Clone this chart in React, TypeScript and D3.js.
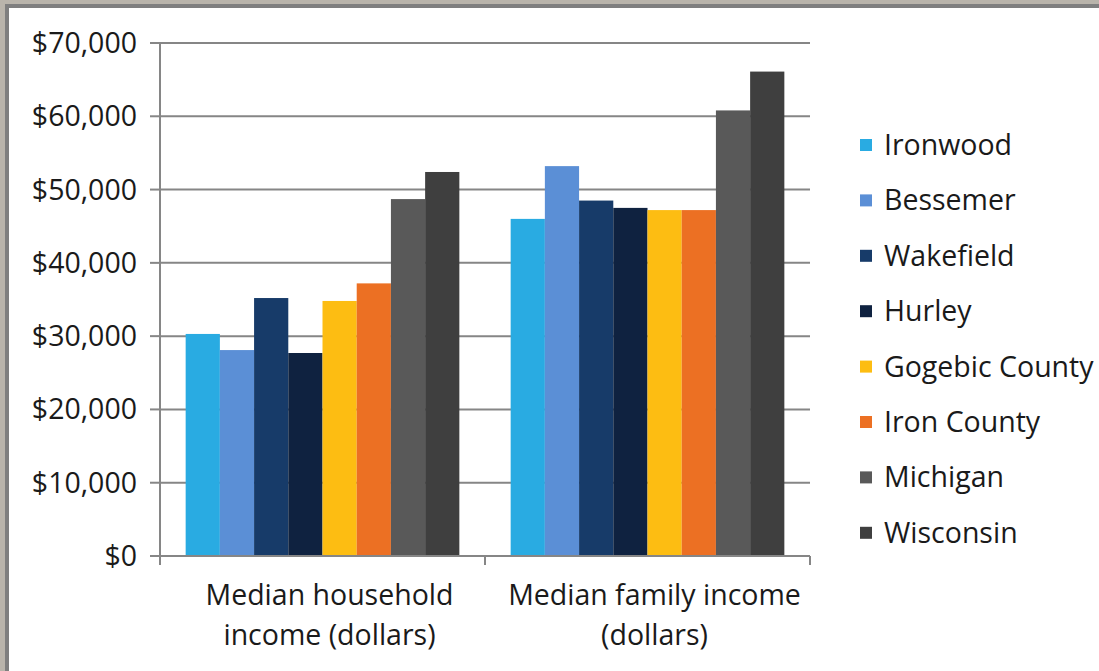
import React from "react";
import * as d3 from "d3";

const categories = ["Median household income (dollars)", "Median family income (dollars)"];
const categoryLines = [["Median household", "income (dollars)"], ["Median family income", "(dollars)"]];
const seriesNames = ["Ironwood", "Bessemer", "Wakefield", "Hurley", "Gogebic County", "Iron County", "Michigan", "Wisconsin"];
const seriesColors = ["#29ABE2", "#5B8FD6", "#173B69", "#0F2240", "#FDBD12", "#EC7023", "#595959", "#3F3F3F"];
const householdValues = [30300, 28100, 35200, 27700, 34800, 37200, 48700, 52400];
const familyValues = [46000, 53200, 48500, 47500, 47200, 47200, 60800, 66100];
const yTicks = [0, 10000, 20000, 30000, 40000, 50000, 60000, 70000];

const W = 1099;
const H = 671;
const left = 160;
const right = 810;
const top = 43;
const bottom = 556;
const FONT = "'Open Sans', sans-serif";
const FS = 28.5;

export default function App() {
  const y = d3.scaleLinear().domain([0, 70000]).range([bottom, top]);
  const x0 = d3.scaleBand<string>().domain(categories).range([left, right]).padding(0);
  const x1 = d3
    .scaleBand<string>()
    .domain(seriesNames)
    .range([0, x0.bandwidth()])
    .paddingInner(0)
    .paddingOuter(0.75);
  const values = [householdValues, familyValues];
  const fmt = (v: number) => "$" + d3.format(",")(v);

  return (
    <svg width={W} height={H} style={{ position: "absolute", left: 0, top: 0 }}>
      <rect x={0} y={0} width={W} height={H} fill="#b9b4ab" />
      <rect x={5} y={4} width={W} height={H} fill="#7f7f7f" />
      <rect x={9} y={8} width={W} height={H} fill="#ffffff" />

      {yTicks.map((t) => (
        <g key={t}>
          {t > 0 && (
            <line x1={left} x2={right} y1={y(t)} y2={y(t)} stroke="#868686" strokeWidth={2} />
          )}
          <line x1={left - 10} x2={left} y1={y(t)} y2={y(t)} stroke="#868686" strokeWidth={2} />
          <text
            x={137}
            y={y(t)}
            dy="0.35em"
            textAnchor="end"
            fontFamily={FONT}
            fontSize={FS}
            fill="#1a1a1a"
          >
            {fmt(t)}
          </text>
        </g>
      ))}

      {categories.map((c, ci) => (
        <g key={c}>
          {seriesNames.map((s, si) => {
            const v = values[ci][si];
            const bx = (x0(c) ?? 0) + (x1(s) ?? 0);
            return (
              <rect
                key={s}
                x={bx}
                y={y(v)}
                width={x1.bandwidth()}
                height={bottom - y(v)}
                fill={seriesColors[si]}
              />
            );
          })}
          {categoryLines[ci].map((ln, li) => (
            <text
              key={li}
              x={(x0(c) ?? 0) + x0.bandwidth() / 2 + 7}
              y={595 + li * 40}
              dy="0.35em"
              textAnchor="middle"
              fontFamily={FONT}
              fontSize={FS}
              fill="#1a1a1a"
            >
              {ln}
            </text>
          ))}
        </g>
      ))}

      <line x1={left} x2={left} y1={top} y2={bottom + 8} stroke="#868686" strokeWidth={2} />
      <line x1={left} x2={right} y1={bottom} y2={bottom} stroke="#868686" strokeWidth={2} />
      {[0, 1, 2].map((i) => {
        const xx = left + (i * (right - left)) / 2;
        return <line key={i} x1={xx} x2={xx} y1={bottom} y2={bottom + 9} stroke="#868686" strokeWidth={2} />;
      })}

      {seriesNames.map((s, i) => (
        <g key={s} transform={`translate(860, ${145 + i * 55.4})`}>
          <rect x={0} y={-6} width={12} height={12} fill={seriesColors[i]} />
          <text x={24} y={0} dy="0.35em" fontFamily={FONT} fontSize={FS} fill="#1a1a1a">
            {s}
          </text>
        </g>
      ))}
    </svg>
  );
}
